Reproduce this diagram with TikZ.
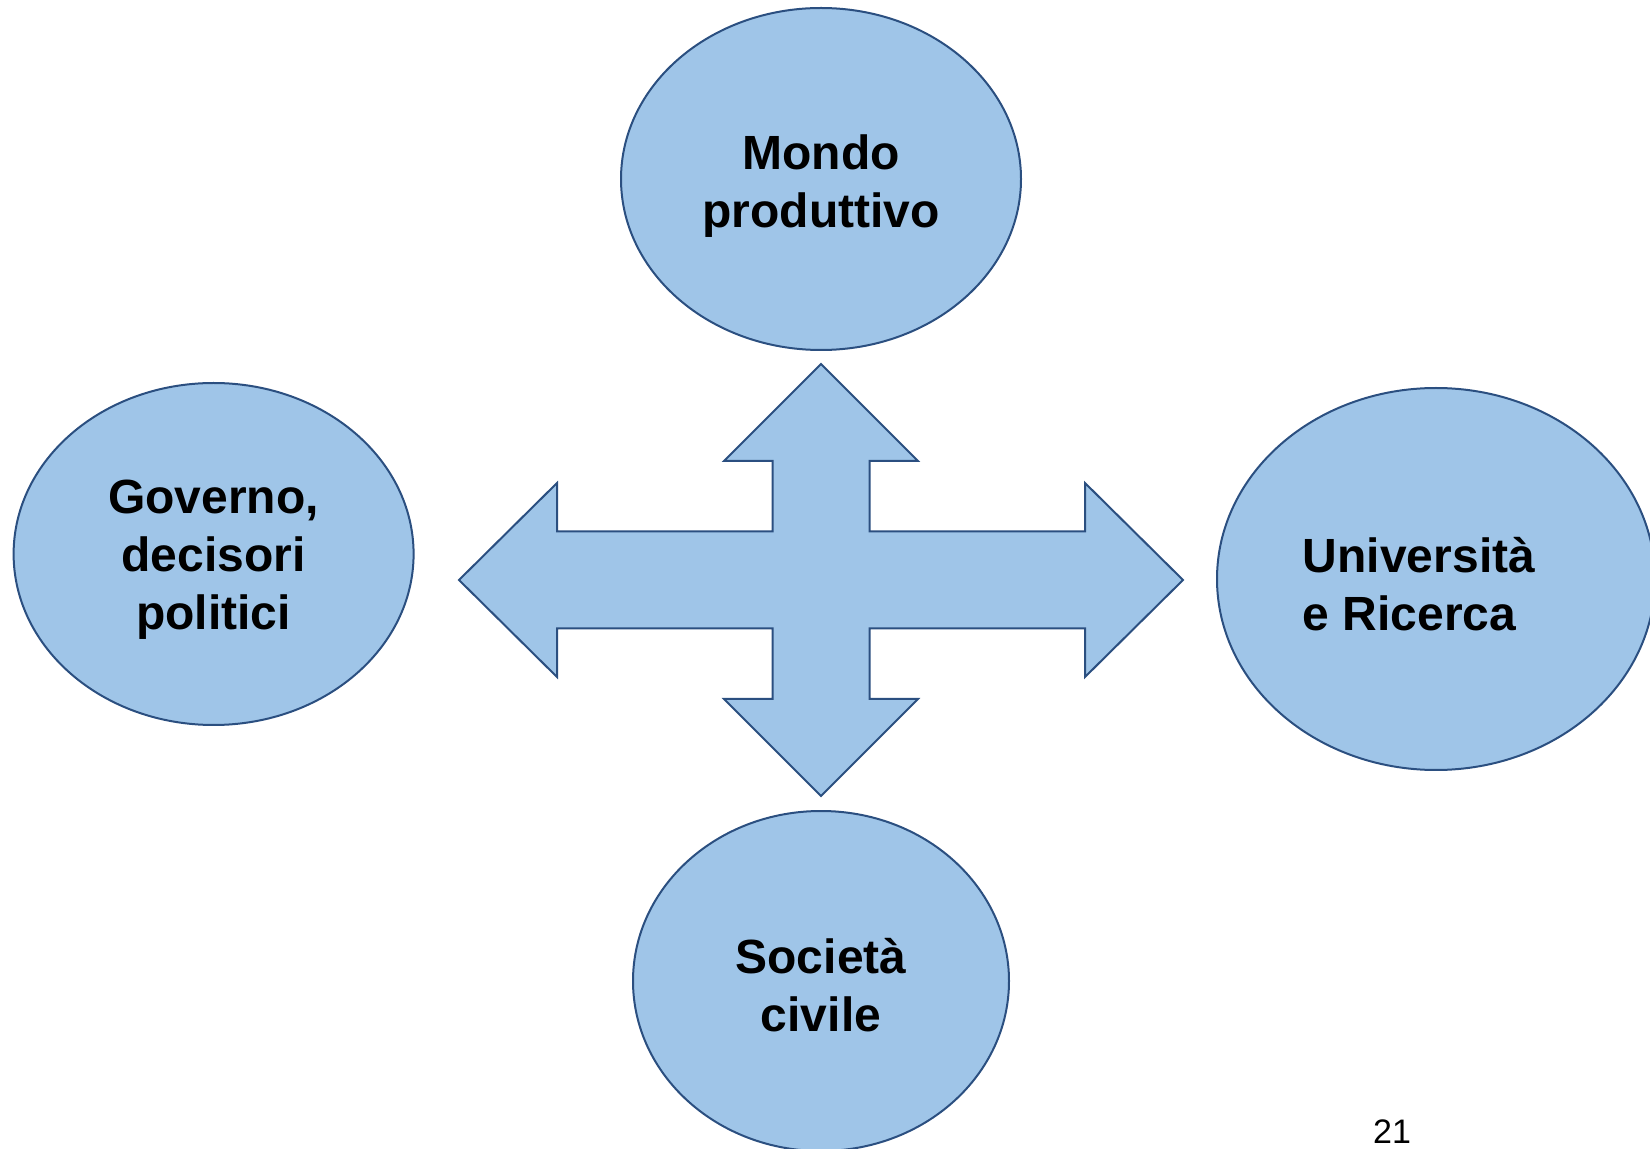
\documentclass[tikz,border=0pt]{standalone}
\usepackage{fontspec}
\setmainfont{Liberation Sans}
\usetikzlibrary{shapes.geometric}
\definecolor{fillb}{HTML}{9FC5E8}
\definecolor{edgeb}{HTML}{2B4F80}
\begin{document}
\begin{tikzpicture}[x=0.5pt,y=-0.5pt,
  bubble/.style={ellipse, draw=edgeb, fill=fillb, line width=1pt, inner sep=0pt},
  lbl/.style={font=\bfseries\fontsize{24}{29}\selectfont, align=center, text=black, inner sep=0pt},
  cross/.style={draw=edgeb, fill=fillb, line width=1pt, line join=miter}]
\useasboundingbox (0,0) rectangle (1650,1149);
\clip (0,0) rectangle (1650,1149);
\node[bubble, minimum width=200pt, minimum height=171pt] (top) at (821,179) {};
\node[bubble, minimum width=200pt, minimum height=171pt] (left) at (213.6,554) {};
\node[bubble, minimum width=219pt, minimum height=191pt] (right) at (1436,579) {};
\node[bubble, minimum width=188pt, minimum height=170pt] (bottom) at (821,981) {};
\node[lbl] (ttop) at (821,186) {Mondo\\produttivo};
\node[lbl] (tleft) at (213.6,560) {Governo,\\decisori\\politici};
\node[lbl, align=left] (tright) at (1419,584) {Università\\e Ricerca};
\node[lbl] (tbottom) at (821,985) {Società\\civile};
\coordinate (c) at (821,580);
\begin{scope}[shift={(c)}]
\draw[cross] (0,-216) -- (97,-119) -- (48.5,-119) -- (48.5,-48.5) -- (264,-48.5) -- (264,-97) -- (362,0) -- (264,97) -- (264,48.5) -- (48.5,48.5) -- (48.5,119) -- (97,119) -- (0,216) -- (-97,119) -- (-48.5,119) -- (-48.5,48.5) -- (-264,48.5) -- (-264,97) -- (-362,0) -- (-264,-97) -- (-264,-48.5) -- (-48.5,-48.5) -- (-48.5,-119) -- (-97,-119) -- cycle;
\end{scope}
\node[anchor=base, font=\fontsize{17}{20}\selectfont, inner sep=0pt] (page) at (1392,1143) {21};
\end{tikzpicture}
\end{document}
